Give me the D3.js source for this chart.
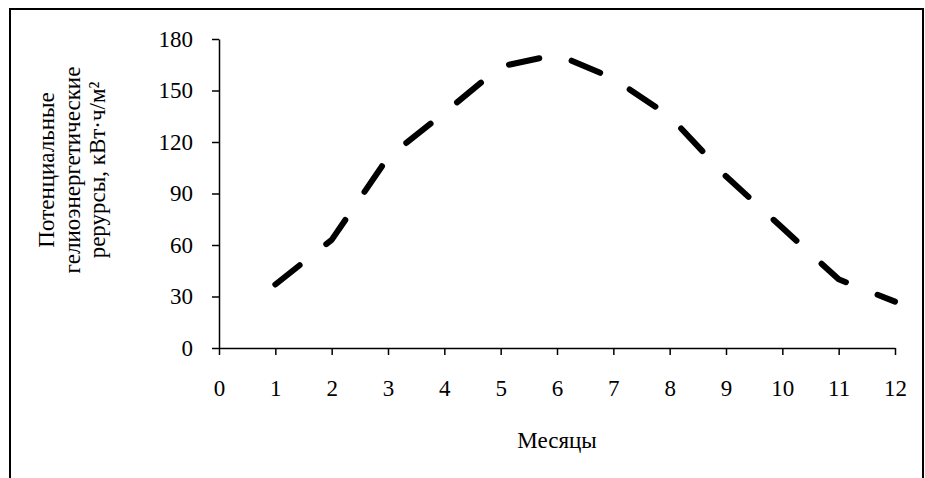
<!DOCTYPE html>
<html>
<head>
    <meta charset="utf-8" />
    <title>Гелиоэнергетические ресурсы</title>
    <script src="https://d3js.org/d3.v7.min.js"></script>
    <style type='text/css'>
        body { margin: 0; background: #fff; }
        .axis path, .axis line { stroke: #000; stroke-width: 1.5; }
        .lbl { font-family: 'Liberation Serif', 'Times New Roman', serif; font-size: 23px; fill: #000; }
    </style>
</head>
<body>
    <script>
        // data
        var months = [1, 2, 3, 4, 5, 6, 7, 8, 9, 10, 11, 12];
        var resources = [37, 63, 111, 137, 164, 171, 157, 135, 100, 70, 40, 27];
        var xTicks = [0, 1, 2, 3, 4, 5, 6, 7, 8, 9, 10, 11, 12];
        var yTicks = [0, 30, 60, 90, 120, 150, 180];
        var yLabelLines = ['Потенциальные', 'гелиоэнергетические', 'рерурсы, кВт·ч/м²'];

        var width = 925
            , height = 478
            , serif = "'Liberation Serif', 'Times New Roman', serif";

        var svg = d3.select('body').append('svg')
            .attr('width', width)
            .attr('height', height);

        // outer frame (bottom edge runs off the picture)
        svg.append('rect')
            .attr('x', 10).attr('y', 9)
            .attr('width', 913).attr('height', 480)
            .attr('fill', 'none')
            .attr('stroke', '#000')
            .attr('stroke-width', 2);

        var x = d3.scaleLinear().domain([0, 12]).range([219, 895]);
        var y = d3.scaleLinear().domain([0, 180]).range([348, 39]);

        svg.append('g')
            .attr('class', 'axis')
            .attr('transform', `translate(0,${y(0)})`)
            .call(d3.axisBottom(x).tickValues(xTicks).tickSize(7).tickSizeOuter(0).tickPadding(25))
            .attr('font-family', serif)
            .attr('font-size', 23)
            .selectAll('text').attr('fill', '#000');

        svg.append('g')
            .attr('class', 'axis')
            .attr('transform', `translate(${x(0)},0)`)
            .call(d3.axisLeft(y).tickValues(yTicks).tickSize(7).tickSizeOuter(0).tickPadding(19))
            .attr('font-family', serif)
            .attr('font-size', 23)
            .selectAll('text').attr('fill', '#000');

        // the series
        var line = d3.line()
            .x((d, i) => x(months[i]))
            .y(d => y(d));

        svg.append('path')
            .datum(resources)
            .attr('d', line)
            .attr('fill', 'none')
            .attr('stroke', '#000')
            .attr('stroke-width', 6)
            .attr('stroke-linecap', 'round')
            .attr('stroke-linejoin', 'round')
            .attr('stroke-dasharray', '31,34');

        // axis titles
        svg.append('text')
            .attr('class', 'lbl')
            .attr('x', (x(0) + x(12)) / 2)
            .attr('y', 448)
            .attr('text-anchor', 'middle')
            .text('Месяцы');

        var baseX = [54, 80, 105];
        svg.append('g').selectAll('text')
            .data(yLabelLines)
            .enter()
            .append('text')
            .attr('class', 'lbl')
            .attr('text-anchor', 'middle')
            .attr('transform', (d, i) => `translate(${baseX[i]},170) rotate(-90)`)
            .text(d => d);
    </script>
</body>
</html>
